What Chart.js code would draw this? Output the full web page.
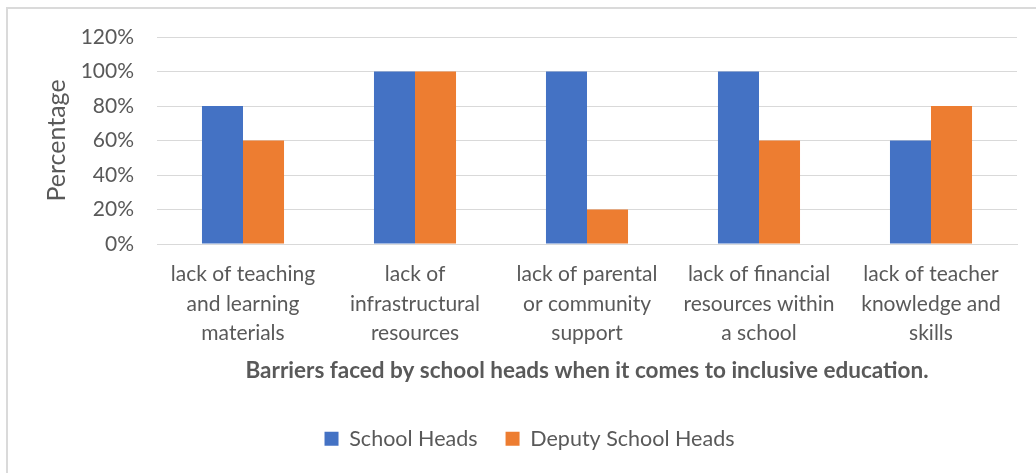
<!DOCTYPE html>
<html>
<head>
<meta charset="utf-8">
<script src="https://cdn.jsdelivr.net/npm/chart.js@4"></script>
<style>
  html, body { margin: 0; padding: 0; background: #fff; }
  #wrap { position: relative; width: 1036px; height: 473px; overflow: hidden; }
  #frame { position: absolute; left: 6px; top: 7px; width: 1100px; height: 600px;
           border-left: 2px solid #dadada; border-top: 2px solid #dadada; pointer-events: none; }
  canvas { position: absolute; left: 0; top: 0; }
</style>
</head>
<body>
<div id="wrap">
  <canvas id="chart" width="1036" height="473"></canvas>
  <div id="frame"></div>
</div>
<script>
// Barriers and the share of respondents reporting each one (percent)
const categories = [
  ["lack of teaching", "and learning", "materials"],
  ["lack of", "infrastructural", "resources"],
  ["lack of parental", "or community", "support"],
  ["lack of financial", "resources within", "a school"],
  ["lack of teacher", "knowledge and", "skills"]
];
const schoolHeads = [80, 100, 100, 100, 60];
const deputySchoolHeads = [60, 100, 20, 60, 80];
const yTicks = [0, 20, 40, 60, 80, 100, 120];

const FONT = "Lato, 'Open Sans', sans-serif";
const TEXT = "#595959";

new Chart(document.getElementById("chart"), {
  type: "bar",
  data: {
    labels: categories,
    datasets: [
      { label: "School Heads", data: schoolHeads, backgroundColor: "#4472C4",
        categoryPercentage: 0.477, barPercentage: 1.0 },
      { label: "Deputy School Heads", data: deputySchoolHeads, backgroundColor: "#ED7D31",
        categoryPercentage: 0.477, barPercentage: 1.0 }
    ]
  },
  options: {
    responsive: false,
    animation: false,
    layout: { padding: { left: 42, right: 19, top: 37, bottom: 13.5 } },
    plugins: {
      tooltip: { enabled: false },
      legend: {
        position: "bottom",
        labels: {
          color: TEXT,
          font: { family: FONT, size: 21.5 },
          boxWidth: 14,
          boxHeight: 14,
          padding: 28
        }
      }
    },
    scales: {
      y: {
        min: 0, max: 120,
        afterBuildTicks: (scale) => { scale.ticks = yTicks.map(v => ({ value: v })); },
        afterFit: (scale) => { scale.width = 115; },
        border: { display: false },
        grid: { color: "#d9d9d9", lineWidth: 1, drawTicks: false },
        ticks: {
          color: TEXT,
          font: { family: FONT, size: 21 },
          padding: 23,
          callback: (v) => v + "%"
        },
        title: {
          display: true,
          text: "Percentage",
          color: TEXT,
          font: { family: FONT, size: 25 },
          padding: { top: 0, bottom: 0 }
        }
      },
      x: {
        afterFit: (scale) => { scale.height = 156; },
        border: { display: true, color: "#d9d9d9" },
        grid: { display: false, drawTicks: false },
        ticks: {
          color: TEXT,
          font: { family: FONT, size: 21, lineHeight: 1.4 },
          padding: 16,
          maxRotation: 0,
          autoSkip: false
        },
        title: {
          display: true,
          text: "Barriers faced by school heads when it comes to inclusive education.",
          color: TEXT,
          font: { family: FONT, size: 22.5, weight: "bold" },
          padding: { top: 0, bottom: 15.5 }
        }
      }
    }
  }
});
</script>
</body>
</html>
